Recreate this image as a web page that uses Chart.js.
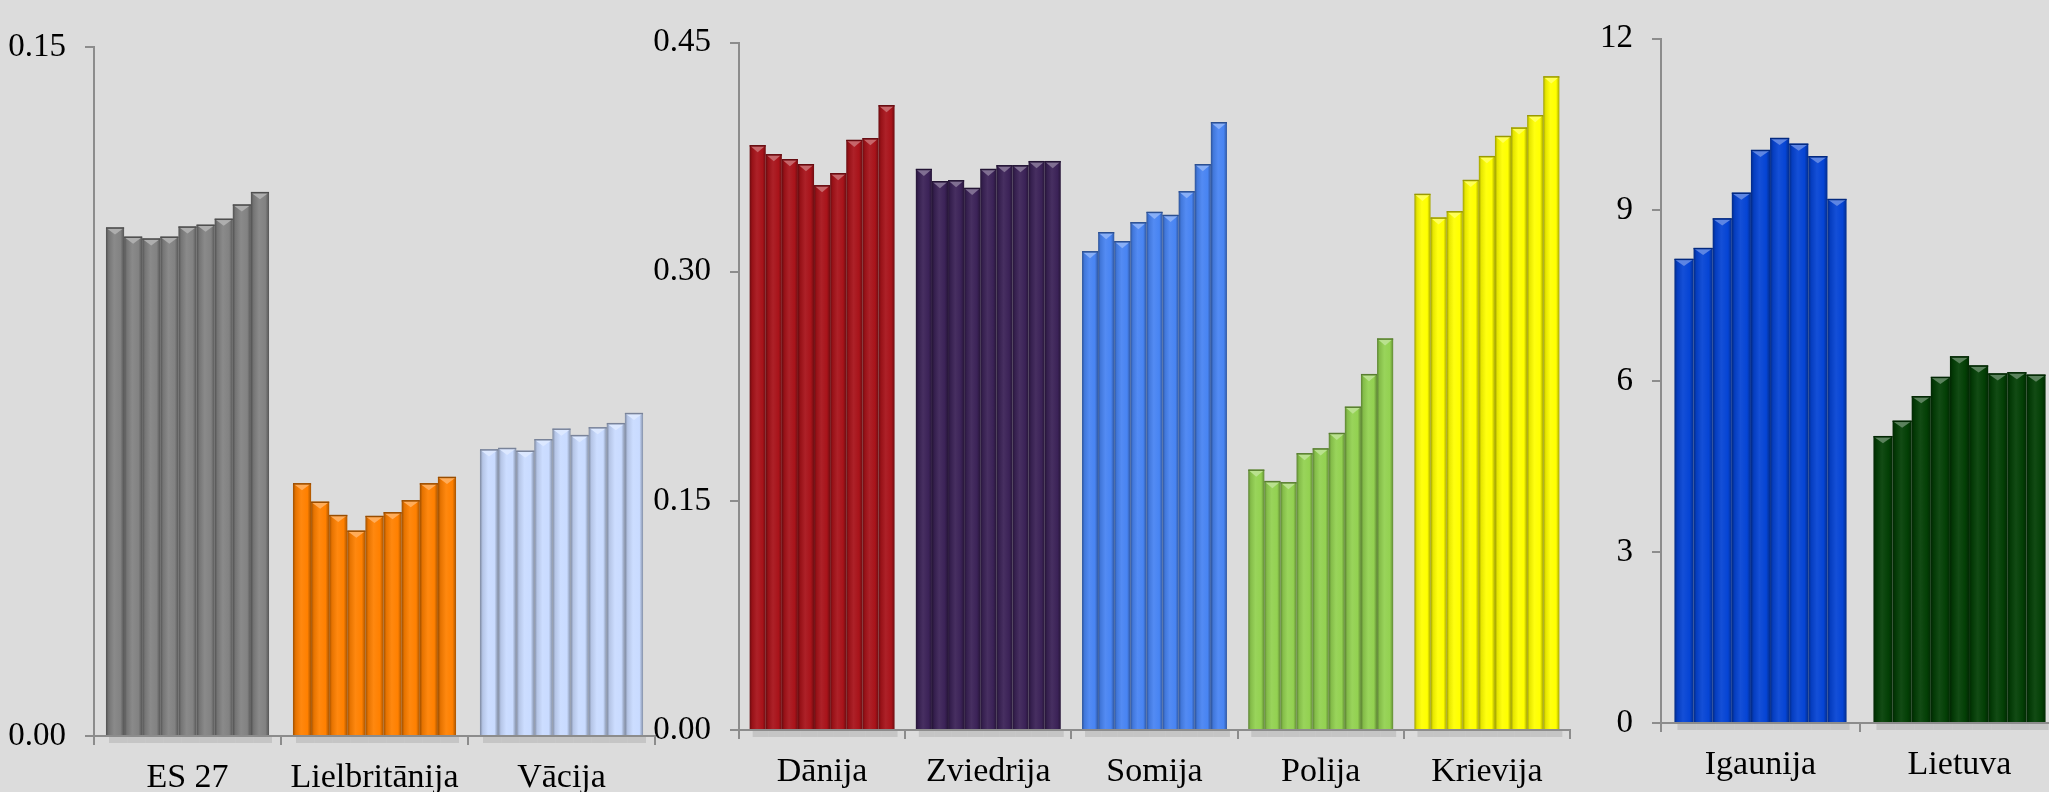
<!DOCTYPE html>
<html>
<head>
<meta charset="utf-8">
<script src="https://cdn.jsdelivr.net/npm/chart.js@4.4.1/dist/chart.umd.min.js"></script>
<style>
  html, body { margin: 0; padding: 0; background: #dcdcdc; overflow: hidden; }
  body { width: 2049px; height: 792px; position: relative; }
  canvas { position: absolute; top: 0; }
</style>
</head>
<body>
<canvas id="chart1" width="660" height="792" style="left:0px"></canvas>
<canvas id="chart2" width="935" height="792" style="left:640px"></canvas>
<canvas id="chart3" width="510" height="792" style="left:1555px"></canvas>
<script>
// Panel 1 (0.00 - 0.15)
const labels1 = ['ES 27', 'Lielbritānija', 'Vācija'];
const es27 = [0.1107, 0.1087, 0.1083, 0.1087, 0.1109, 0.1113, 0.1126, 0.1157, 0.1184];
const lielbritanija = [0.0550, 0.0510, 0.0481, 0.0447, 0.0479, 0.0487, 0.0513, 0.0550, 0.0564];
const vacija = [0.0624, 0.0627, 0.0621, 0.0646, 0.0669, 0.0655, 0.0672, 0.0681, 0.0703];
const colors1 = ['#828282', '#ff8000', '#c9dbff'];
const ticks1 = [0, 0.15];

// Panel 2 (0.00 - 0.45)
const labels2 = ['Dānija', 'Zviedrija', 'Somija', 'Polija', 'Krievija'];
const danija = [0.3827, 0.3768, 0.3736, 0.3703, 0.3565, 0.3644, 0.3862, 0.3873, 0.4089];
const zviedrija = [0.3672, 0.3592, 0.3598, 0.3548, 0.3672, 0.3696, 0.3696, 0.3723, 0.3723];
const somija = [0.3133, 0.3258, 0.3199, 0.3323, 0.3391, 0.3371, 0.3526, 0.3703, 0.3978];
const polija = [0.1704, 0.1629, 0.1621, 0.1811, 0.1843, 0.1944, 0.2116, 0.2329, 0.2562];
const krievija = [0.3509, 0.3354, 0.3395, 0.3600, 0.3756, 0.3888, 0.3943, 0.4024, 0.4278];
const colors2 = ['#a8131a', '#3b2257', '#4884f2', '#93d151', '#ffff00'];
const ticks2 = [0, 0.15, 0.30, 0.45];

// Panel 3 (0 - 12)
const labels3 = ['Igaunija', 'Lietuva'];
const igaunija = [8.14, 8.33, 8.85, 9.30, 10.05, 10.26, 10.16, 9.94, 9.19];
const lietuva = [5.03, 5.30, 5.73, 6.07, 6.43, 6.27, 6.13, 6.15, 6.11];
const colors3 = ['#0544d4', '#033f05'];
const ticks3 = [0, 3, 6, 9, 12];

const FONT = '"Liberation Serif", "Times New Roman", serif';
const AXIS_COLOR = '#8c8c8c';

function hexToRgb(hex) {
    const n = parseInt(hex.slice(1), 16);
    return [(n >> 16) & 255, (n >> 8) & 255, n & 255];
}

function shade(hex, f) {
    const c = hexToRgb(hex).map(v => Math.max(0, Math.min(255, Math.round(v * f))));
    return `rgb(${c[0]},${c[1]},${c[2]})`;
}

function tint(hex, f) {
    const c = hexToRgb(hex).map(v => Math.round(v + (255 - v) * f));
    return `rgb(${c[0]},${c[1]},${c[2]})`;
}

// Cylinder-like shading, bevelled tops and a soft shadow under each bar
const barStyle = {
    id: 'barStyle',
    beforeDatasetsDraw(chart) {
        const ctx = chart.ctx;
        const colors = chart.options.plugins.barStyle.colors;
        const bottom = chart.chartArea.bottom;
        ctx.save();
        ctx.fillStyle = 'rgba(0,0,0,0.10)';
        chart.data.datasets.forEach((ds, di) => {
            chart.getDatasetMeta(di).data.forEach((el, i) => {
                const p = el.getProps(['x', 'width'], true);
                // shadow just below the axis
                ctx.fillRect(p.x - p.width / 2 + 3, bottom + 1, p.width, 6);
                const c = colors[i];
                const g = ctx.createLinearGradient(p.x - p.width / 2, 0, p.x + p.width / 2, 0);
                g.addColorStop(0, shade(c, 0.62));
                g.addColorStop(0.15, shade(c, 0.9));
                g.addColorStop(0.45, tint(c, 0.06));
                g.addColorStop(0.8, c);
                g.addColorStop(1, shade(c, 0.66));
                el.options.backgroundColor = g;
            });
        });
        ctx.restore();
    },
    afterDatasetsDraw(chart) {
        const ctx = chart.ctx;
        const colors = chart.options.plugins.barStyle.colors;
        ctx.save();
        chart.data.datasets.forEach((ds, di) => {
            chart.getDatasetMeta(di).data.forEach((el, i) => {
                const p = el.getProps(['x', 'y', 'width'], true);
                const c = colors[i];
                const l = p.x - p.width / 2, r = p.x + p.width / 2;
                ctx.fillStyle = tint(c, 0.35);
                ctx.beginPath();
                ctx.moveTo(l + 1, p.y + 1);
                ctx.lineTo(r - 1, p.y + 1);
                ctx.lineTo(p.x, p.y + 7);
                ctx.closePath();
                ctx.fill();
                ctx.strokeStyle = shade(c, 0.6);
                ctx.lineWidth = 1.5;
                ctx.beginPath();
                ctx.moveTo(l, p.y + 0.5);
                ctx.lineTo(r, p.y + 0.5);
                ctx.stroke();
            });
        });
        ctx.restore();
    }
};

function buildChart(id, labels, series, colors, tickValues, opts) {
    const datasets = [];
    for (let j = 0; j < 9; j++) {
        datasets.push({
            label: 'Gads ' + (j + 1),
            data: series.map(s => s[j]),
            backgroundColor: colors,
            borderWidth: 0,
            categoryPercentage: opts.catPct,
            barPercentage: 1.0
        });
    }
    return new Chart(document.getElementById(id), {
        type: 'bar',
        data: { labels: labels, datasets: datasets },
        plugins: [barStyle],
        options: {
            responsive: false,
            animation: false,
            layout: { padding: { top: opts.top, right: opts.right, left: 0, bottom: 0 } },
            plugins: {
                legend: { display: false },
                tooltip: { enabled: false },
                barStyle: { colors: colors }
            },
            scales: {
                x: {
                    grid: { drawOnChartArea: false, drawTicks: true, tickLength: 9, color: AXIS_COLOR, lineWidth: 2 },
                    border: { color: AXIS_COLOR, width: 2 },
                    ticks: { color: '#000', padding: 13, font: { family: FONT, size: 34 } },
                    afterFit: s => { s.height = opts.xHeight; }
                },
                y: {
                    min: 0,
                    max: tickValues[tickValues.length - 1],
                    afterBuildTicks: s => { s.ticks = tickValues.map(v => ({ value: v })); },
                    grid: { drawOnChartArea: false, drawTicks: true, tickLength: 9, color: AXIS_COLOR, lineWidth: 2 },
                    border: { color: AXIS_COLOR, width: 2 },
                    ticks: {
                        color: '#000',
                        padding: 19,
                        font: { family: FONT, size: 33 },
                        callback: v => opts.decimals ? Number(v).toFixed(2) : String(v)
                    },
                    afterFit: s => { s.width = opts.yWidth; }
                }
            }
        }
    });
}

buildChart('chart1', labels1, [es27, lielbritanija, vacija], colors1, ticks1,
    { catPct: 0.872, top: 47, right: 5, xHeight: 56, yWidth: 94, decimals: true });
buildChart('chart2', labels2, [danija, zviedrija, somija, polija, krievija], colors2, ticks2,
    { catPct: 0.872, top: 42.5, right: 5, xHeight: 62, yWidth: 99, decimals: true });
buildChart('chart3', labels3, [igaunija, lietuva], colors3, ticks3,
    { catPct: 0.865, top: 25, right: 6, xHeight: 69, yWidth: 106, decimals: false });
</script>
</body>
</html>
